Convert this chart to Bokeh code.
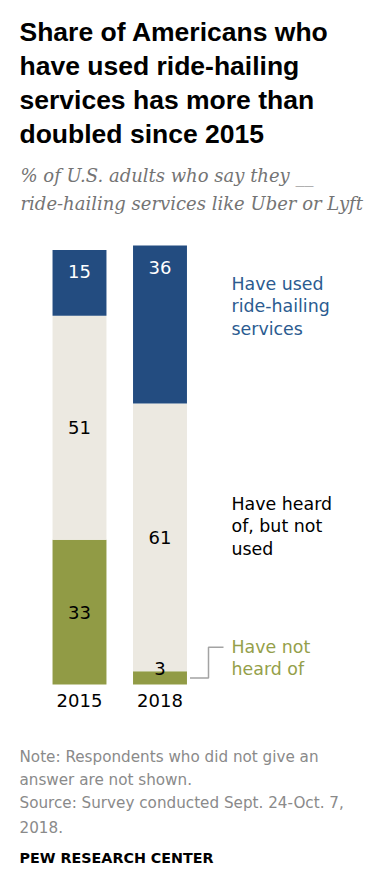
from bokeh.plotting import figure
from bokeh.models import Range1d, Label, ColumnDataSource
from bokeh.core.properties import value
from bokeh.embed import file_html
from bokeh.resources import INLINE

# ---------------- data ----------------
years = ["2015", "2018"]
have_used = [15, 36]
heard_not_used = [51, 61]
not_heard = [33, 3]
series_names = ["Have not heard of", "Have heard of, but not used", "Have used ride-hailing services"]

title_lines = ["Share of Americans who", "have used ride-hailing",
               "services has more than", "doubled since 2015"]
subtitle_lines = ["% of U.S. adults who say they __",
                  "ride-hailing services like Uber or Lyft"]
note_lines = ["Note: Respondents who did not give an", "answer are not shown.",
              "Source: Survey conducted Sept. 24-Oct. 7,", "2018."]
credit = "PEW RESEARCH CENTER"
legend_used = ["Have used", "ride-hailing", "services"]
legend_heard = ["Have heard", "of, but not", "used"]
legend_not = ["Have not", "heard of"]

# ---------------- style ----------------
BLUE = "#234c80"
BEIGE = "#ece9e1"
OLIVE = "#919b45"
BLUE_TXT = "#2b5b90"
OLIVE_TXT = "#959f4a"
GRAY = "#8a8a8a"
SANS = "DejaVu Sans"

W, H = 379, 873
PX = 4.39          # pixels per percentage point
BASE = 684         # canvas y (from top) of the 0 line
X0, XSTEP = 79, 80.5
BAR_W = 0.67

def sx(page_x):
    return page_x

def sy(page_y):
    return H - page_y

p = figure(width=W, height=H,
           x_range=Range1d(-X0 / XSTEP, (W - X0) / XSTEP),
           y_range=Range1d(-(H - BASE) / PX, BASE / PX),
           output_backend="svg", toolbar_location=None,
           x_axis_location=None, y_axis_location=None,
           min_border=0)
p.grid.visible = False
p.outline_line_color = None
p.background_fill_color = "white"
p.border_fill_color = "white"

xs = list(range(len(years)))
src = ColumnDataSource(dict(x=xs, years=years, not_heard=not_heard,
                            heard=heard_not_used, used=have_used))
p.vbar_stack(["not_heard", "heard", "used"], x="x", width=BAR_W,
             color=[OLIVE, BEIGE, BLUE], line_color=None, source=src)

# value labels
lx, ly, lt, lc = [], [], [], []
for i in xs:
    b0 = 0
    segs = [(not_heard[i], "black"), (heard_not_used[i], "black"), (have_used[i], "white")]
    for k, (v, c) in enumerate(segs):
        if k == 2:
            yy = b0 + v - 22 / PX
        elif v < 5:
            yy = b0 + v / 2 + 9 / PX
        else:
            yy = b0 + v / 2
        lx.append(i); ly.append(yy); lt.append(str(v)); lc.append(c)
        b0 += v
p.text(x=lx, y=ly, text=lt, text_color=lc, text_align="center",
       text_baseline="middle", text_font=value(SANS), text_font_size="18px")

# year labels
p.text(x=xs, y=[-16 / PX] * len(xs), text=years, text_align="center",
       text_baseline="middle", text_font=value(SANS), text_font_size="18px",
       text_color="black")

# connector for "Have not heard of"
cy = not_heard[1] / 2
ly2 = (BASE - 646.7) / PX
xa = 1 + BAR_W / 2 + 3 / XSTEP
xb = (sx(208) - X0) / XSTEP
xc = (sx(223) - X0) / XSTEP
p.line(x=[xa, xb, xb, xc], y=[cy, cy, ly2, ly2], line_color="#a3a3a3", line_width=1.5)

def add_lines(lines, x, y0, dy, size, color, font=SANS, style="normal"):
    for j, t in enumerate(lines):
        p.add_layout(Label(x=sx(x), y=sy(y0 + j * dy), x_units="screen", y_units="screen",
                           text=t, text_font=font, text_font_size=size,
                           text_font_style=style, text_color=color,
                           text_baseline="alphabetic", text_align="left"))

add_lines(title_lines, 19, 31, 34.3, "26.5px", "black", font="Liberation Sans", style="bold")
add_lines(subtitle_lines, 20, 175, 27.5, "18px", "#747474", font="DejaVu Serif", style="italic")
add_lines(legend_used, 231, 283, 22.5, "17.4px", BLUE_TXT)
add_lines(legend_heard, 231, 503, 22.5, "17.4px", "black")
add_lines(legend_not, 231, 646.7, 21.7, "17.4px", OLIVE_TXT)
add_lines(note_lines, 19, 756.7, 23.1, "15.2px", GRAY)
add_lines([credit], 19, 857.3, 0, "14.3px", "black", style="bold")

open("out.html", "w").write(file_html(p, INLINE))
